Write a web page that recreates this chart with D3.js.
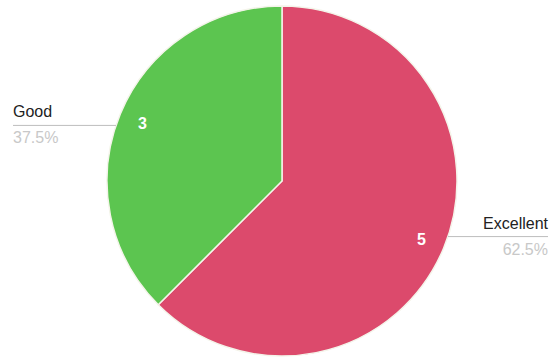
<!DOCTYPE html>
<html><head><meta charset="utf-8">
<script src="https://cdn.jsdelivr.net/npm/d3@7/dist/d3.min.js"></script>
<style>body{margin:0;background:#fff;}svg{display:block;}</style>
</head><body>
<script>
const categories = ["Excellent", "Good"];
const values = [5, 3];
const percentLabels = ["62.5%", "37.5%"];
const colors = ["#dc4a6c", "#5cc550"];

const W = 554, H = 360, cx = 282, cy = 181, r = 175;
const svg = d3.select("body").append("svg").attr("width", W).attr("height", H);
const g = svg.append("g").attr("transform", `translate(${cx},${cy})`);

const pie = d3.pie().sort(null).value(d => d)(values);
const arc = d3.arc().innerRadius(0).outerRadius(r);
const labelArc = d3.arc().innerRadius(151).outerRadius(151);

g.selectAll("path.slice").data(pie).join("path")
  .attr("class", "slice")
  .attr("d", arc)
  .attr("fill", (d, i) => colors[i])
  .attr("stroke", "#f4f4ea").attr("stroke-width", 1.5);

g.selectAll("text.val").data(pie).join("text")
  .attr("class", "val")
  .attr("transform", d => `translate(${labelArc.centroid(d)})`)
  .attr("text-anchor", "middle").attr("dy", "0.36em")
  .attr("font-family", "Liberation Sans, Arial, sans-serif")
  .attr("font-size", 16).attr("font-weight", "bold")
  .attr("fill", "#fff")
  .text(d => d.value);

// outside labels
const textX = { right: 548 - cx, left: 13 - cx };
pie.forEach((d, i) => {
  const mid = (d.startAngle + d.endAngle) / 2;
  const dy = -Math.cos(mid) * r * 0.83;
  const side = Math.sin(mid) >= 0 ? 1 : -1;
  const x0 = side * Math.sqrt(r * r - dy * dy);
  const x1 = side > 0 ? textX.right : textX.left;
  g.append("line").attr("x1", x0).attr("y1", dy).attr("x2", x1).attr("y2", dy)
    .attr("stroke", "#bdbdbd").attr("stroke-width", 1);
  const anchor = side > 0 ? "end" : "start";
  g.append("text").attr("x", x1).attr("y", dy - 8)
    .attr("text-anchor", anchor)
    .attr("font-family", "Liberation Sans, Arial, sans-serif")
    .attr("font-size", 16).attr("fill", "#222")
    .text(categories[i]);
  g.append("text").attr("x", x1).attr("y", dy + 18)
    .attr("text-anchor", anchor)
    .attr("font-family", "Liberation Sans, Arial, sans-serif")
    .attr("font-size", 16).attr("fill", "#c8c8c8")
    .text(percentLabels[i]);
});
</script>
</body></html>
